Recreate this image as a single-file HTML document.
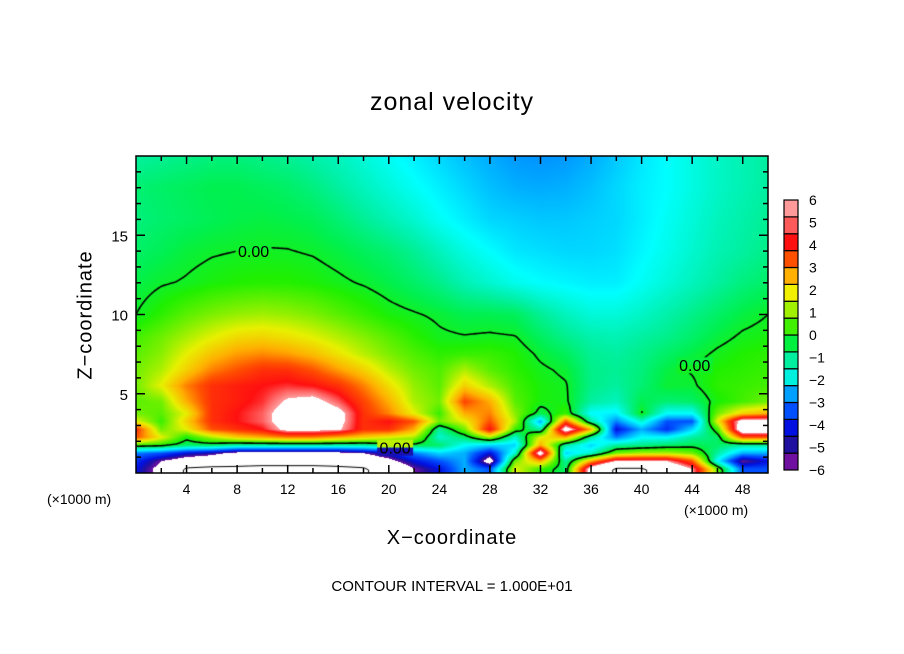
<!DOCTYPE html>
<html><head><meta charset="utf-8">
<style>
body{margin:0;background:#fff;}
#wrap{position:relative;width:904px;height:654px;background:#fff;font-family:"Liberation Sans",sans-serif;overflow:hidden;}
.t{position:absolute;color:#000;white-space:nowrap;}
canvas{position:absolute;left:136px;top:156px;}
svg{position:absolute;left:0;top:0;}
</style></head>
<body>
<div id="wrap">
<div class="t" style="left:0;width:904px;text-align:center;top:88px;font-size:25px;letter-spacing:1px;">zonal velocity</div>
<canvas id="cv" width="632" height="317"></canvas>
<svg id="ov" width="904" height="654"></svg>
<div class="t" style="left:0;width:904px;text-align:center;top:527px;font-size:20px;letter-spacing:1px;">X−coordinate</div>
<div class="t" style="left:86px;top:315px;font-size:20px;letter-spacing:1px;transform:translate(-50%,-50%) rotate(-90deg);">Z−coordinate</div>
<div class="t" style="left:47px;top:491px;font-size:14px;">(×1000 m)</div>
<div class="t" style="left:684px;top:502px;font-size:14px;">(×1000 m)</div>
<div class="t" style="left:0;width:904px;text-align:center;top:578px;font-size:15px;">CONTOUR INTERVAL = 1.000E+01</div>
</div>
<script>
const xs=[0,2,4,6,8,10,12,14,16,18,20,22,24,26,28,30,32,34,36,38,40,42,44,46,48,50];
const zs=[0.25,0.75,1.25,1.75,2.25,2.75,3.25,3.75,4.5,5.5,6.5,7.5,8.5,10,12,14,16,18,20];
const field=[
[-5.0,-6.5,-10.5,-11,-11,-11.5,-11.5,-11.5,-11,-10.5,-8.0,-6.0,-5.0,-3.0,-4.0,2.0,0.5,-0.5,7.0,10.5,10.5,8.0,6.0,1.0,-4.0,-4.0],
[-4.5,-6.0,-7.0,-7.5,-8.0,-8.0,-8.0,-8.0,-8.0,-7.5,-6.5,-5.0,-4.0,-3.0,-7.0,1.0,3.0,-1.0,3.0,6.0,6.0,6.0,4.0,-2.0,-6.0,-5.0],
[-3.5,-4.0,-5.0,-5.5,-6.5,-6.5,-6.5,-6.5,-6.5,-6.0,-5.0,-3.5,-2.5,-3.0,-5.0,-1.5,7.0,-2.5,-1.5,1.0,1.5,1.5,1.0,-1.0,-3.0,-3.0],
[0.5,0.3,-0.5,-0.5,-1.0,-1.0,-1.0,-1.0,-1.0,-1.0,-0.5,-0.3,-0.5,-2.0,-2.5,-2.5,3.0,-1.0,-2.5,-1.0,-0.8,-0.5,-0.3,-0.5,-1.0,-1.0],
[4.0,2.0,0.2,1.5,2.5,3.0,3.5,3.5,3.0,2.5,2.0,1.5,-1.5,-0.5,1.5,-1.5,2.0,3.0,-1.0,-3.5,-2.0,-2.0,-1.0,-0.5,4.0,4.0],
[4.5,1.0,2.0,4.0,4.5,5.0,6.5,6.5,6.2,4.5,4.5,3.0,-1.0,1.0,5.0,0.5,-1.0,7.0,3.0,-5.0,-3.0,-4.5,-2.5,0.5,7.5,7.5],
[2.0,0.5,2.5,4.5,5.0,5.5,6.8,7.0,6.5,4.5,5.0,4.0,1.0,2.0,4.0,1.5,-3.0,4.0,-1.0,-3.5,-1.5,-4.0,-4.0,2.0,7.0,7.0],
[1.0,0.8,2.0,4.5,5.0,5.5,6.8,7.0,6.5,4.5,3.5,2.0,0.5,3.0,3.5,1.2,-0.3,0.5,-2.0,-2.2,0.1,-2.0,-2.0,1.0,2.5,3.0],
[0.8,1.0,3.0,4.5,4.8,5.2,6.2,6.5,5.5,4.2,3.0,1.5,1.0,4.2,3.0,0.8,0.2,0.1,-1.0,-1.3,-0.3,-0.6,-0.5,0.2,0.6,1.0],
[1.0,2.0,3.5,4.5,4.8,5.0,5.2,5.0,4.5,3.5,2.3,1.3,0.8,2.5,1.5,0.6,0.2,0.05,-0.8,-1.0,-0.6,-0.1,-0.1,0.4,0.5,0.6],
[1.0,1.5,2.5,3.5,4.0,4.5,4.5,4.0,3.2,2.5,1.6,1.0,0.7,1.5,0.8,0.4,0.1,-0.1,-0.8,-0.9,-0.7,-0.2,0.05,0.3,0.4,0.5],
[0.8,1.2,2.0,2.7,3.2,3.4,3.2,2.8,2.2,1.6,1.1,0.7,0.4,0.5,0.5,0.3,-0.1,-0.4,-0.9,-1.0,-0.8,-0.5,-0.2,0.1,0.3,0.4],
[0.6,1.0,1.5,2.0,2.4,2.5,2.3,2.0,1.6,1.2,0.8,0.4,0.1,0.05,0.1,0.05,-0.4,-0.8,-1.1,-1.2,-1.0,-0.8,-0.5,-0.15,0.1,0.2],
[0.0,0.4,0.8,1.1,1.3,1.4,1.3,1.1,0.8,0.5,0.2,0.05,-0.1,-0.3,-0.3,-0.4,-0.9,-1.3,-1.6,-1.6,-1.4,-1.1,-0.8,-0.5,-0.2,0.0],
[-0.25,-0.05,0.05,0.2,0.3,0.35,0.33,0.25,0.1,-0.05,-0.25,-0.5,-0.8,-1.2,-1.5,-1.8,-2.0,-2.1,-2.2,-2.2,-1.9,-1.6,-1.3,-1.0,-0.7,-0.5],
[-0.5,-0.35,-0.15,-0.05,0.0,0.03,0.02,-0.05,-0.2,-0.4,-0.6,-0.9,-1.3,-1.7,-2.0,-2.3,-2.4,-2.5,-2.5,-2.4,-2.1,-1.8,-1.5,-1.2,-1.0,-0.8],
[-0.7,-0.55,-0.45,-0.35,-0.25,-0.2,-0.25,-0.35,-0.6,-0.9,-1.2,-1.5,-1.9,-2.2,-2.5,-2.6,-2.7,-2.7,-2.6,-2.5,-2.2,-1.9,-1.6,-1.3,-1.1,-0.9],
[-0.6,-0.5,-0.4,-0.3,-0.3,-0.4,-0.5,-0.7,-1.0,-1.3,-1.6,-1.9,-2.2,-2.5,-2.8,-3.0,-3.05,-3.0,-2.8,-2.5,-2.2,-2.0,-1.7,-1.4,-1.2,-1.0],
[-1,-0.9,-0.8,-0.7,-0.7,-0.8,-0.9,-1.1,-1.3,-1.6,-1.9,-2.2,-2.5,-2.8,-3.05,-3.25,-3.3,-3.25,-3.05,-2.7,-2.3,-2.0,-1.7,-1.4,-1.2,-1.0]
];
const xTickLabels=[4,8,12,16,20,24,28,32,36,40,44,48];
const yTickLabels=[5,10,15];
const cbLabels=[6,5,4,3,2,1,0,-1,-2,-3,-4,-5,-6];
const cbColors=['#7010a0','#2010a0','#0010e0','#0050ff','#00a0ff','#00f0e0','#00f0a0','#00f040','#40f000','#a0f000','#f0f000','#ffb000','#ff5000','#ff1010','#ff5a5a','#ff9a9a'];
const cmapValues=[-6,-5.5,-5,-4,-3,-2,-1,-0.3,0.3,1,2,3,4,5,5.5,6];
const cmapColors=['#7010a0','#2010a0','#0010e0','#0050ff','#00b0ff','#00ffff','#00f0a0','#00f050','#20f000','#70f000','#e8f000','#ffb000','#ff5000','#ff1010','#ff6060','#ffa0a0'];
const contourLabels=[[9.3,14,0],[20.5,1.6,0],[44.2,6.8,0]];

const PX=136,PY=156,PW=632,PH=317,XMAX=50,ZMAX=20;
const sx=x=>PX+x/XMAX*PW, sy=z=>PY+PH-z/ZMAX*PH;
function hex(c){return [parseInt(c.substr(1,2),16),parseInt(c.substr(3,2),16),parseInt(c.substr(5,2),16)];}
const cmRGB=cmapColors.map(hex);
function colorOf(v){
  if(v>6||v<-6) return [255,255,255];
  let i=0; while(i<cmapValues.length-2&&v>cmapValues[i+1])i++;
  const f=Math.max(0,Math.min(1,(v-cmapValues[i])/(cmapValues[i+1]-cmapValues[i])));
  const a=cmRGB[i], b=cmRGB[i+1];
  return [a[0]+(b[0]-a[0])*f,a[1]+(b[1]-a[1])*f,a[2]+(b[2]-a[2])*f];
}
function val(x,z){
  let i=Math.floor(x/2); if(i>24)i=24; if(i<0)i=0; const fx=Math.min(1,Math.max(0,(x-xs[i])/2));
  if(z<zs[0])z=zs[0]; if(z>zs[zs.length-1])z=zs[zs.length-1];
  let j=0; while(j<zs.length-2&&z>zs[j+1])j++;
  const fz=(z-zs[j])/(zs[j+1]-zs[j]);
  const a=field[j][i]*(1-fx)+field[j][i+1]*fx, b=field[j+1][i]*(1-fx)+field[j+1][i+1]*fx;
  return a*(1-fz)+b*fz;
}
const cv=document.getElementById('cv'), ctx=cv.getContext('2d');
const img=ctx.createImageData(PW,PH);
for(let py=0;py<PH;py++){const z=ZMAX-(py+0.5)/PH*ZMAX;
  for(let px=0;px<PW;px++){const x=(px+0.5)/PW*XMAX; const c=colorOf(val(x,z)); const k=(py*PW+px)*4;
    img.data[k]=c[0];img.data[k+1]=c[1];img.data[k+2]=c[2];img.data[k+3]=255;}}
ctx.putImageData(img,0,0);
const S=2, NX=Math.ceil(PW/S)+1, NY=Math.ceil(PH/S)+1, G=[];
for(let j=0;j<NY;j++){G.push([]);for(let i=0;i<NX;i++)G[j].push(val(i*S/PW*XMAX,ZMAX-j*S/PH*ZMAX));}
function contour(level,lw,dash){
  ctx.save();ctx.strokeStyle='#000';ctx.lineWidth=lw;ctx.setLineDash(dash);ctx.beginPath();
  for(let j=0;j<NY-1;j++)for(let i=0;i<NX-1;i++){
    const v=[G[j][i],G[j][i+1],G[j+1][i+1],G[j+1][i]], p=[[i,j],[i+1,j],[i+1,j+1],[i,j+1]], pts=[];
    for(let e=0;e<4;e++){const a=v[e],b=v[(e+1)%4]; if((a<level)!==(b<level)){const t=(level-a)/(b-a);
      pts.push([(p[e][0]+(p[(e+1)%4][0]-p[e][0])*t)*S,(p[e][1]+(p[(e+1)%4][1]-p[e][1])*t)*S]);}}
    for(let k=0;k+1<pts.length;k+=2){ctx.moveTo(pts[k][0],pts[k][1]);ctx.lineTo(pts[k+1][0],pts[k+1][1]);}
  }
  ctx.stroke();ctx.restore();
}
contour(0,1.6,[]);contour(-10,1,[4,3]);contour(10,1,[]);
contourLabels.forEach(c=>{const c1=colorOf(val(c[0],c[1]+0.6)),c2=colorOf(val(c[0],c[1]-0.6));
  const px=sx(c[0])-PX, py=sy(c[1])-PY;
  ctx.fillStyle='rgb('+c1.map(Math.round).join(',')+')';ctx.fillRect(px-18,py-8,36,8);
  ctx.fillStyle='rgb('+c2.map(Math.round).join(',')+')';ctx.fillRect(px-18,py,36,8);});
const NS='http://www.w3.org/2000/svg', ov=document.getElementById('ov');
function el(tag,attrs,parent){const e=document.createElementNS(NS,tag);for(const k in attrs)e.setAttribute(k,attrs[k]);(parent||ov).appendChild(e);return e;}
contourLabels.forEach(c=>{
  const g=el('g',{});
  
  
  const t=el('text',{x:sx(c[0]),y:sy(c[1])+6,'text-anchor':'middle','font-size':'16','font-family':'Liberation Sans, sans-serif',fill:'#000'},g);
  t.textContent=c[2].toFixed(2);
});
const frame=el('rect',{x:PX,y:PY,width:PW,height:PH,fill:'none',stroke:'#000','stroke-width':1.5});


const ticks=el('g',{stroke:'#000','stroke-width':1.5});


for(let x=2;x<XMAX;x+=2){const L=(x%4===0)?8:5;
  el('line',{x1:sx(x),x2:sx(x),y1:PY+PH,y2:PY+PH-L},ticks);el('line',{x1:sx(x),x2:sx(x),y1:PY,y2:PY+L},ticks);}
for(let z=1;z<ZMAX;z++){const L=(z%5===0)?9:5;
  el('line',{x1:PX,x2:PX+L,y1:sy(z),y2:sy(z)},ticks);el('line',{x1:PX+PW,x2:PX+PW-L,y1:sy(z),y2:sy(z)},ticks);}
xTickLabels.forEach(v=>{const t=el('text',{x:sx(v),y:494,'text-anchor':'middle','font-size':'14','font-family':'Liberation Sans, sans-serif'});
  
  
  t.textContent=v;});
yTickLabels.forEach(v=>{const t=el('text',{x:128,y:sy(v)+6,'text-anchor':'end','font-size':'15','font-family':'Liberation Sans, sans-serif'});
  
  
  t.textContent=v;});
const CBX=784,CBW=14,CBT=200,CBB=470,n=cbColors.length,bh=(CBB-CBT)/n;
const cb=el('g',{});


cbColors.forEach((c,i)=>{const r=el('rect',{x:CBX,y:CBB-(i+1)*bh,width:CBW,height:bh,fill:c,stroke:'#000','stroke-width':1.2},cb);
  
  });
cbLabels.forEach(v=>{const t=el('text',{x:809,y:CBB-(v+6)/12*(CBB-CBT)+5,'font-size':'14','font-family':'Liberation Sans, sans-serif'},cb);
  
  
  t.textContent=String(v).replace('-','−');});
</script>
</body></html>
